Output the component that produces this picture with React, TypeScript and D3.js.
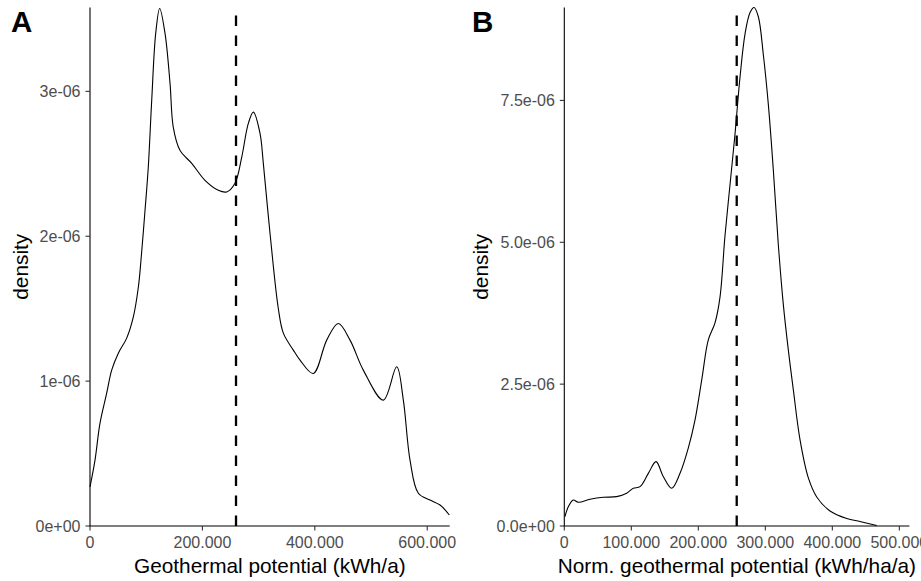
import React from 'react';
import * as d3 from 'd3';

// Panel A: Geothermal potential (kWh/a)
const geoX = [0, 8900, 17800, 29700, 38600, 50400, 65300, 77000, 86000, 90700, 97900, 103700, 109800, 116900, 124000, 133500, 142400, 148200, 160100, 181000, 204600, 228300, 243200, 258000, 269900, 281700, 290600, 302500, 308400, 320300, 335000, 344000, 361800, 373700, 397300, 421200, 441800, 462700, 486300, 521900, 545700, 557500, 569400, 584200, 605000, 622800, 639300];
const geoDensity = [0.27e-6, 0.455e-6, 0.71e-6, 0.917e-6, 1.076e-6, 1.193e-6, 1.297e-6, 1.441e-6, 1.648e-6, 1.834e-6, 2.179e-6, 2.476e-6, 2.938e-6, 3.4e-6, 3.572e-6, 3.4e-6, 3.055e-6, 2.752e-6, 2.593e-6, 2.503e-6, 2.386e-6, 2.317e-6, 2.306e-6, 2.366e-6, 2.545e-6, 2.779e-6, 2.857e-6, 2.71e-6, 2.503e-6, 2.021e-6, 1.503e-6, 1.331e-6, 1.214e-6, 1.145e-6, 1.053e-6, 1.283e-6, 1.398e-6, 1.283e-6, 1.076e-6, 0.869e-6, 1.099e-6, 0.869e-6, 0.455e-6, 0.226e-6, 0.179e-6, 0.145e-6, 0.076e-6];
const geoMedian = 259800;
const geoXTicks = [0, 200000, 400000, 600000];
const geoYTicks = [0, 1e-6, 2e-6, 3e-6];

// Panel B: Norm. geothermal potential (kWh/ha/a)
const normX = [1000, 6000, 13400, 20900, 38400, 58200, 78100, 93100, 103000, 113000, 125400, 136900, 147800, 160300, 172700, 185100, 195100, 205100, 214900, 224900, 232400, 239800, 247300, 254800, 262300, 269800, 277200, 283200, 289500, 297000, 304500, 311900, 319400, 326900, 334300, 341800, 351800, 364200, 376700, 396500, 421500, 441300, 466300];
const normDensity = [0.164e-6, 0.34e-6, 0.459e-6, 0.418e-6, 0.471e-6, 0.506e-6, 0.517e-6, 0.577e-6, 0.665e-6, 0.693e-6, 0.928e-6, 1.134e-6, 0.869e-6, 0.665e-6, 0.928e-6, 1.376e-6, 1.87e-6, 2.575e-6, 3.281e-6, 3.581e-6, 4.039e-6, 5.116e-6, 6.015e-6, 6.914e-6, 7.92e-6, 8.679e-6, 9.049e-6, 9.137e-6, 8.979e-6, 8.309e-6, 7.426e-6, 6.279e-6, 4.957e-6, 3.898e-6, 3.104e-6, 2.399e-6, 1.517e-6, 0.847e-6, 0.512e-6, 0.265e-6, 0.132e-6, 0.079e-6, 0.009e-6];
const normMedian = 257300;
const normXTicks = [0, 100000, 200000, 300000, 400000, 500000];
const normYTicks = [0, 2.5e-6, 5e-6, 7.5e-6];

const FONT = '"Liberation Sans", Arial, Helvetica, sans-serif';

const fmtX = (v: number) => (v === 0 ? '0' : d3.format(',')(v).replace(/,/g, '.'));
const fmtSci = (digits: number) => (v: number) =>
  v.toExponential(digits).replace(/e([+-])(\d)$/, 'e$10$2');

type PanelProps = {
  label: string;
  xs: number[];
  ys: number[];
  median: number;
  xDomain: [number, number];
  yDomain: [number, number];
  left: number;
  right: number;
  top: number;
  bottom: number;
  xTicks: number[];
  yTicks: number[];
  yFmt: (v: number) => string;
  xTitle: string;
  yTitleX: number;
  labelX: number;
};

function Panel(p: PanelProps) {
  const x = d3.scaleLinear().domain(p.xDomain).range([p.left, p.right]);
  const y = d3.scaleLinear().domain(p.yDomain).range([p.bottom, p.top]);
  const pts = p.xs.map((v, i) => [v, p.ys[i]] as [number, number]);
  const line = d3
    .line<[number, number]>()
    .x((d) => x(d[0]))
    .y((d) => y(d[1]))
    .curve(d3.curveCatmullRom.alpha(0.5));
  const mx = x(p.median);
  return (
    <g>
      <path d={line(pts) || ''} fill="none" stroke="#000" strokeWidth={1.1} />
      <path
        d={`M${mx},${p.bottom}L${mx},${p.top}`}
        stroke="#000"
        strokeWidth={2.3}
        strokeDasharray="10.5 9.5"
        fill="none"
      />
      <line x1={p.left} x2={p.left} y1={p.top} y2={p.bottom + 0.5} stroke="#000" strokeWidth={1.1} />
      <line x1={p.left - 0.5} x2={p.right} y1={p.bottom} y2={p.bottom} stroke="#000" strokeWidth={1.1} />
      {p.yTicks.map((t) => (
        <g key={'y' + t}>
          <line x1={p.left - 4.5} x2={p.left} y1={y(t)} y2={y(t)} stroke="#333" strokeWidth={1.1} />
          <text
            x={p.left - 9.5}
            y={y(t)}
            dy="0.36em"
            textAnchor="end"
            fontSize={16}
            fill="#4D4D4D"
            fontFamily={FONT}
          >
            {p.yFmt(t)}
          </text>
        </g>
      ))}
      {p.xTicks.map((t) => (
        <g key={'x' + t}>
          <line x1={x(t)} x2={x(t)} y1={p.bottom} y2={p.bottom + 4.5} stroke="#333" strokeWidth={1.1} />
          <text x={x(t)} y={548.3} textAnchor="middle" fontSize={16} fill="#4D4D4D" fontFamily={FONT}>
            {fmtX(t)}
          </text>
        </g>
      ))}
      <text
        x={(p.left + p.right) / 2}
        y={573}
        textAnchor="middle"
        fontSize={20.8}
        fill="#000"
        fontFamily={FONT}
      >
        {p.xTitle}
      </text>
      <text
        transform={`translate(${p.yTitleX},${(p.top + p.bottom) / 2}) rotate(-90)`}
        textAnchor="middle"
        fontSize={20.8}
        fill="#000"
        fontFamily={FONT}
      >
        density
      </text>
      <text x={p.labelX} y={32.3} fontSize={29.5} fontWeight="bold" fill="#000" fontFamily={FONT}>
        {p.label}
      </text>
    </g>
  );
}

export default function App() {
  return (
    <svg
      width={921}
      height={581}
      viewBox="0 0 921 581"
      style={{ position: 'absolute', left: 0, top: 0, background: '#fff', display: 'block' }}
    >
      <rect x={0} y={0} width={921} height={581} fill="#fff" />
      <Panel
        label="A"
        xs={geoX}
        ys={geoDensity}
        median={geoMedian}
        xDomain={[0, 640000]}
        yDomain={[0, 3.579e-6]}
        left={90}
        right={449.7}
        top={7.5}
        bottom={526}
        xTicks={geoXTicks}
        yTicks={geoYTicks}
        yFmt={fmtSci(0)}
        xTitle="Geothermal potential (kWh/a)"
        yTitleX={28}
        labelX={11}
      />
      <Panel
        label="B"
        xs={normX}
        ys={normDensity}
        median={normMedian}
        xDomain={[0, 515000]}
        yDomain={[0, 9.138e-6]}
        left={564.3}
        right={909.4}
        top={7.5}
        bottom={526}
        xTicks={normXTicks}
        yTicks={normYTicks}
        yFmt={fmtSci(1)}
        xTitle="Norm. geothermal potential (kWh/ha/a)"
        yTitleX={488}
        labelX={472}
      />
    </svg>
  );
}
